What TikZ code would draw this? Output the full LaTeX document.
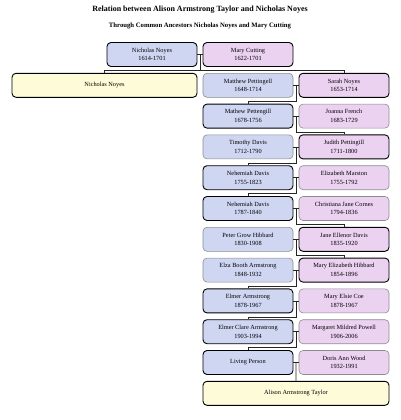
\documentclass[tikz,border=0pt]{standalone}
\usepackage{fontspec}
\setmainfont{Liberation Serif}
\definecolor{manblue}{HTML}{CFD6F2}
\definecolor{womanpink}{HTML}{EBD2F1}
\definecolor{endyellow}{HTML}{FEFBD8}
\definecolor{spouseline}{HTML}{8C8C8C}

\begin{document}
\begin{tikzpicture}[x=1pt,y=-1pt,
	person/.style={draw,rounded corners=4pt,minimum width=90pt,minimum height=24pt,
		align=center,inner sep=1pt,font=\fontsize{6.3}{8.6}\selectfont},
	blood/.style={person,line width=0.9pt,draw=black},
	spouse/.style={person,line width=0.6pt,draw=spouseline},
	he/.style={fill=manblue},
	she/.style={fill=womanpink},
	ends/.style={fill=endyellow},
	link/.style={line width=0.8pt,draw=black!85}]
			\useasboundingbox (0,0) rectangle (400,420);
			\node[font=\bfseries\fontsize{8}{9}\selectfont] (title) at (200,10) {Relation between Alison Armstrong Taylor and Nicholas Noyes};
			\node[font=\bfseries\fontsize{6.7}{7}\selectfont] (subtitle) at (200,25.5) {Through Common Ancestors Nicholas Noyes and Mary Cutting};
			% common ancestors
			\node[blood,he] (nicholas) at (152,54.5) {Nicholas Noyes\\1614-1701};
			\node[blood,she] (mary) at (248,54.5) {Mary Cutting\\1622-1701};
			% first line
			\node[blood,ends,minimum width=185pt] (nicholas2) at (104.5,85.3) {Nicholas Noyes};
			% second line
			\node[spouse,he] (matthew) at (248,85.3) {Matthew Pettingell\\1648-1714};
			\node[blood,she] (sarah) at (344,85.3) {Sarah Noyes\\1653-1714};
			\node[blood,he] (mathew) at (248,116.1) {Mathew Pettengill\\1678-1756};
			\node[spouse,she] (joanna) at (344,116.1) {Joanna French\\1683-1729};
			\node[spouse,he] (timothy) at (248,146.9) {Timothy Davis\\1712-1790};
			\node[blood,she] (judith) at (344,146.9) {Judith Pettingill\\1711-1800};
			\node[blood,he] (nehemiah1) at (248,177.7) {Nehemiah Davis\\1755-1823};
			\node[spouse,she] (elizabeth) at (344,177.7) {Elizabeth Marston\\1755-1792};
			\node[blood,he] (nehemiah2) at (248,208.5) {Nehemiah Davis\\1787-1840};
			\node[spouse,she] (christiana) at (344,208.5) {Christiana Jane Cornes\\1794-1836};
			\node[spouse,he] (peter) at (248,239.3) {Peter Grow Hibbard\\1830-1908};
			\node[blood,she] (jane) at (344,239.3) {Jane Ellenor Davis\\1835-1920};
			\node[spouse,he] (elza) at (248,270.1) {Elza Booth Armstrong\\1848-1932};
			\node[blood,she] (maryeliz) at (344,270.1) {Mary Elizabeth Hibbard\\1854-1896};
			\node[blood,he] (elmer) at (248,300.9) {Elmer Armstrong\\1878-1967};
			\node[spouse,she] (elsie) at (344,300.9) {Mary Elsie Coe\\1878-1967};
			\node[blood,he] (elmerclare) at (248,331.7) {Elmer Clare Armstrong\\1903-1994};
			\node[spouse,she] (margaret) at (344,331.7) {Margaret Mildred Powell\\1906-2006};
			\node[blood,he] (living) at (248,362.5) {Living Person};
			\node[spouse,she] (doris) at (344,362.5) {Doris Ann Wood\\1932-1991};
			\node[blood,ends,minimum width=186pt] (alison) at (296,393.3) {Alison Armstrong Taylor};
			% couples
			\draw[link] (nicholas) -- coordinate (m0) (mary);
			\draw[link] (matthew) -- coordinate (m1) (sarah);
			\draw[link] (mathew) -- coordinate (m2) (joanna);
			\draw[link] (timothy) -- coordinate (m3) (judith);
			\draw[link] (nehemiah1) -- coordinate (m4) (elizabeth);
			\draw[link] (nehemiah2) -- coordinate (m5) (christiana);
			\draw[link] (peter) -- coordinate (m6) (jane);
			\draw[link] (elza) -- coordinate (m7) (maryeliz);
			\draw[link] (elmer) -- coordinate (m8) (elsie);
			\draw[link] (elmerclare) -- coordinate (m9) (margaret);
			\draw[link] (living) -- coordinate (m10) (doris);
			% children
			\draw[link] (m0) -- ++(0,16) coordinate (j0);
			\draw[link] (j0) -| (nicholas2);
			\draw[link] (j0) -| (sarah);
			\draw[link] (m1) -- ++(0,16) -| (mathew);
			\draw[link] (m2) -- ++(0,16) -| (judith);
			\draw[link] (m3) -- ++(0,16) -| (nehemiah1);
			\draw[link] (m4) -- ++(0,16) -| (nehemiah2);
			\draw[link] (m5) -- ++(0,16) -| (jane);
			\draw[link] (m6) -- ++(0,16) -| (maryeliz);
			\draw[link] (m7) -- ++(0,16) -| (elmer);
			\draw[link] (m8) -- ++(0,16) -| (elmerclare);
			\draw[link] (m9) -- ++(0,16) -| (living);
			\draw[link] (m10) -- (alison);
		\end{tikzpicture}
\end{document}
